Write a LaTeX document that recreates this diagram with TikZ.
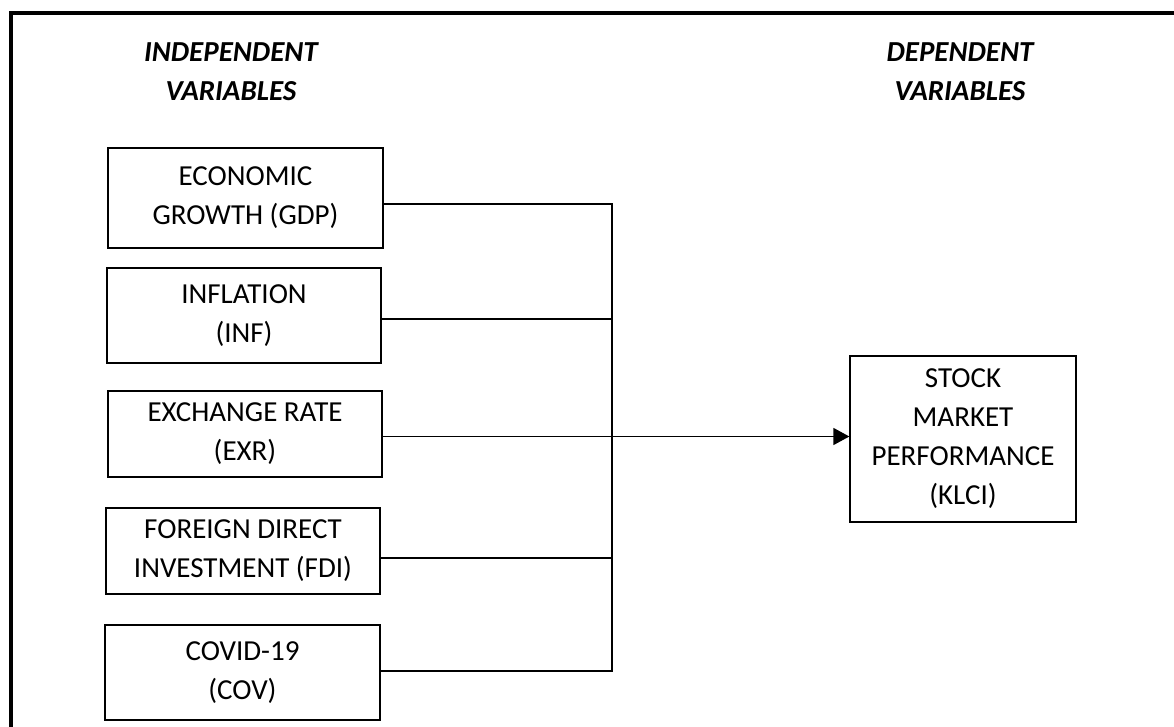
\documentclass[tikz,border=0pt]{standalone}
\usepackage{fontspec}
\setmainfont{Carlito}
\usetikzlibrary{arrows.meta}
\tikzset{
  varbox/.style={draw=black, line width=1.3pt, rectangle, inner sep=0pt, align=center,
    font=\fontsize{29}{39}\selectfont},
  title/.style={align=center, font=\fontsize{29}{39}\selectfont\bfseries\itshape},
  link/.style={draw=black, line width=1.5pt},
  trunk/.style={draw=black, line width=2.2pt},
}
\begin{document}
\begin{tikzpicture}[x=1pt, y=-1pt]
\useasboundingbox (0,0) rectangle (1174,727);
% outer frame (left and top edges visible)
\draw[line width=4pt] (11.3,740) -- (11.3,12.8) -- (1190,12.8);

\node[title] (tin) at (231,72) {INDEPENDENT\\VARIABLES};
\node[title] (tdep) at (960,72) {DEPENDENT\\VARIABLES};

\node[varbox, minimum width=275pt, minimum height=100pt] (gdp) at (245.5,198) {ECONOMIC\\GROWTH (GDP)};
\node[varbox, minimum width=274pt, minimum height=95pt] (inf) at (244,315.5) {INFLATION\\(INF)};
\node[varbox, minimum width=274pt, minimum height=86pt] (exr) at (245,434) {EXCHANGE RATE\\(EXR)};
\node[varbox, minimum width=274pt, minimum height=86pt] (fdi) at (243,551) {FOREIGN DIRECT\\INVESTMENT (FDI)};
\node[varbox, minimum width=275pt, minimum height=95pt] (cov) at (242.5,672.5) {COVID-19\\(COV)};
\node[varbox, minimum width=226pt, minimum height=166pt] (klci) at (963,439) {STOCK\\MARKET\\PERFORMANCE\\(KLCI)};

\coordinate (j1) at (612,204);
\coordinate (j2) at (612,319);
\coordinate (j3) at (612,436.5);
\coordinate (j4) at (612,558);
\coordinate (j5) at (612,671);

\draw[link] (gdp.east |- j1) -- (j1);
\draw[link] (inf.east |- j2) -- (j2);
\draw[link] (exr.east |- j3) -- (j3);
\draw[link] (fdi.east |- j4) -- (j4);
\draw[link] (cov.east |- j5) -- (j5);
\draw[trunk] ([yshift=0.75pt]j1) -- ([yshift=-0.75pt]j5);
\draw[link, -{Triangle[length=16pt, width=17pt]}] (j3) -- (klci.west |- j3);
\end{tikzpicture}
\end{document}
